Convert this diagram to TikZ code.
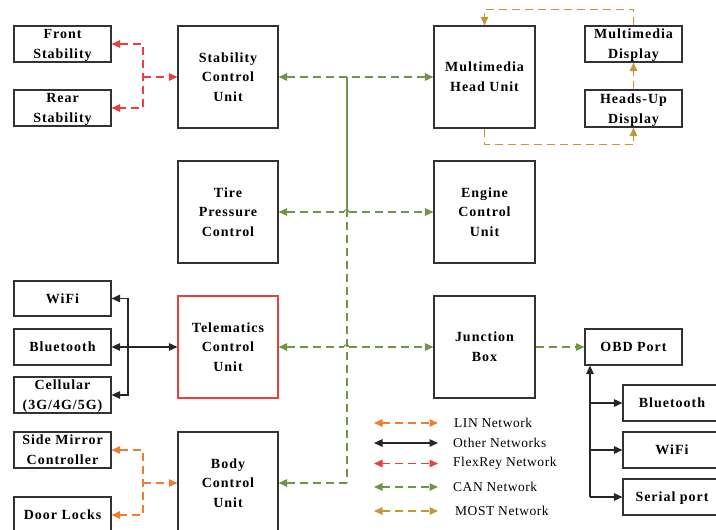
\documentclass[tikz,border=0pt]{standalone}
\usepackage{fontspec}
\setmainfont{Liberation Serif}[LetterSpace=7]
\usetikzlibrary{arrows.meta}
\definecolor{cRed}{RGB}{235,62,62}
\definecolor{cOrange}{RGB}{237,125,49}
\definecolor{cGreen}{RGB}{112,148,72}
\definecolor{cGold}{RGB}{196,150,58}
\definecolor{cBlack}{RGB}{38,38,38}
\definecolor{cBorder}{RGB}{50,50,50}
\tikzset{
  box/.style={draw=cBorder, line width=1.1pt, fill=white, align=center, inner sep=0pt, text depth=0pt,
    font=\fontsize{14}{19.8}\selectfont\bfseries},
  bigbox/.style={box, minimum width=100pt, minimum height=102pt},
  smallbox/.style={box, minimum width=97pt, minimum height=36pt},
  conn/.style={line width=1.4pt, >={Triangle[length=8.5pt,width=7.5pt]}},
  dsh/.style={dash pattern=on 8pt off 5pt},
  lin/.style={conn, dsh, draw=cOrange, color=cOrange},
  flex/.style={conn, dsh, draw=cRed, color=cRed},
  can/.style={conn, dsh, draw=cGreen, color=cGreen},
  most/.style={conn, dsh, draw=cGold, color=cGold},
  oth/.style={conn, draw=cBlack, color=cBlack},
  legtext/.style={anchor=west, inner sep=0pt, font=\fontsize{13.5}{16}\selectfont\addfontfeature{LetterSpace=4}}
}
\begin{document}
\begin{tikzpicture}[x=1pt,y=-1pt]
\useasboundingbox (0,0) rectangle (716,530);
\clip (0,0) rectangle (716,530);
% boxes
\node[smallbox] (fs) at (62.5,44) {Front\\Stability};
\node[smallbox] (rs) at (62.5,108) {Rear\\Stability};
\node[bigbox] (scu) at (228,77) {Stability\\Control\\Unit};
\node[bigbox, minimum width=101pt] (mhu) at (484.5,77) {Multimedia\\Head Unit};
\node[smallbox] (md) at (633.5,44) {Multimedia\\Display};
\node[smallbox, minimum height=37pt] (hud) at (633.5,108.5) {Heads-Up\\Display};
\node[bigbox] (tpc) at (228,212) {Tire\\Pressure\\Control};
\node[bigbox, minimum width=101pt] (ecu) at (484.5,212) {Engine\\Control\\Unit};
\node[smallbox, minimum height=35pt] (wifil) at (62.5,298.5) {WiFi};
\node[smallbox] (btl) at (62.5,347) {Bluetooth};
\node[smallbox] (cell) at (62.5,395) {Cellular\\(3G/4G/5G)};
\node[bigbox, draw=cRed] (tcu) at (228,347) {Telematics\\Control\\Unit};
\node[bigbox, minimum width=101pt] (jb) at (484.5,347) {Junction\\Box};
\node[smallbox] (obd) at (633.5,347) {OBD Port};
\node[smallbox, minimum width=98pt] (btr) at (672,403) {Bluetooth};
\node[smallbox, minimum width=98pt] (wifir) at (672,450) {WiFi};
\node[smallbox, minimum width=98pt] (ser) at (672,497) {Serial port};
\node[smallbox] (smc) at (62.5,450) {Side Mirror\\Controller};
\node[smallbox] (dl) at (62.5,515) {Door Locks};
\node[bigbox] (bcu) at (228,483) {Body\\Control\\Unit};
% junction coordinates
\coordinate (rj) at (143,77);
\coordinate (lj) at (143,483);
\coordinate (tj) at (128,347);
\coordinate (oj) at (590,497);
\coordinate (bus) at (347,0);
% FlexRey
\draw[flex,<->] (fs.east) -| (rj) |- (rs.east);
\draw[flex,->] (rj) -- (scu.west);
% LIN
\draw[lin,<->] (smc.east) -| (lj) |- (dl.east);
\draw[lin,->] (lj) -- (bcu.west);
% Other
\draw[oth,<->] (btl.east) -- (tcu.west);
\draw[oth,<->] (wifil.east) -| (tj) |- (cell.east);
\draw[oth,->] (oj) -- (oj |- obd.south);
\draw[oth,->] (oj |- btr.west) -- (btr.west);
\draw[oth,->] (oj |- wifir.west) -- (wifir.west);
\draw[oth,->] (oj) -- (ser.west);
% CAN
\draw[can,<->] (scu.east) -- (mhu.west);
\draw[can,solid,-] (scu.east -| bus) -- ([yshift=-3pt]tpc.east -| bus);
\draw[can,-] ([yshift=3pt]tpc.east -| bus) -- (bcu.east -| bus);
\draw[can,<-] (tpc.east) -- ([xshift=-3pt]tpc.east -| bus);
\draw[can,solid,-,line width=0.9pt] ([xshift=-3pt]tpc.east -| bus) arc[start angle=180,end angle=0,radius=2.5pt];
\draw[can,->] ([xshift=2pt]tpc.east -| bus) -- (ecu.west);
\draw[can,<-] (tcu.east) -- ([xshift=-3pt]tcu.east -| bus);
\draw[can,solid,-,line width=0.9pt] ([xshift=-3pt]tcu.east -| bus) arc[start angle=180,end angle=0,radius=2.5pt];
\draw[can,->] ([xshift=2pt]tcu.east -| bus) -- (jb.west);
\draw[can,->] (bcu.east -| bus) -- (bcu.east);
\draw[can,->] (jb.east) -- (obd.west);
% MOST
\draw[most,->] (md.north) -- ++(0,-16) -| (mhu.north);
\draw[most,->] (mhu.south) -- ++(0,16) -| (hud.south);
\draw[most,->] (hud.north) -- (md.south);
% legend
\node[legtext] (lg1) at (454,423) {LIN Network};
\node[legtext] (lg2) at (453,443) {Other Networks};
\node[legtext] (lg3) at (453,463.5) {FlexRey Network};
\node[legtext] (lg4) at (453,487) {CAN Network};
\node[legtext] (lg5) at (455,511) {MOST Network};
\coordinate (la) at (374,0);
\coordinate (lb) at (438,0);
\draw[lin,<->] (la |- lg1.west) -- (lb |- lg1.west);
\draw[oth,<->] (la |- lg2.west) -- (lb |- lg2.west);
\draw[flex,<->] (la |- lg3.west) -- (lb |- lg3.west);
\draw[can,<->] (la |- lg4.west) -- (lb |- lg4.west);
\draw[most,<->] (la |- lg5.west) -- (lb |- lg5.west);
\end{tikzpicture}
\end{document}
